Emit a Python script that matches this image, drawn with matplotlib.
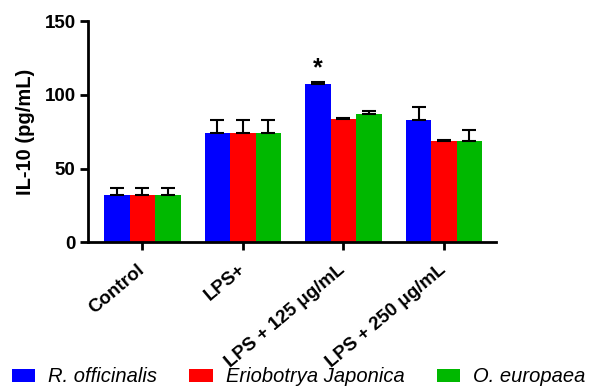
import numpy as np
import matplotlib.pyplot as plt
from matplotlib.patches import Patch

plt.rcParams['font.family'] = ['Liberation Sans', 'DejaVu Sans']

########## data ##########
groups = ['Control', 'LPS+', 'LPS + 125 \u03bcg/mL', 'LPS + 250 \u03bcg/mL']
series_names = ['R. officinalis', 'Eriobotrya Japonica', 'O. europaea']
rosmarinus = [32, 74, 107, 83]
rosmarinus_err = [5, 9, 2, 9]
eriobotrya = [32, 74, 83.5, 68.5]
eriobotrya_err = [5, 9, 0.5, 1]
olea = [32, 74, 87, 69]
olea_err = [5, 9, 2, 7]
star_group = 2
colors = ['#0000ff', '#ff0000', '#00b800']
##########################

fig = plt.figure(figsize=(5.95, 3.89), dpi=100)
ax = fig.add_axes([0.148, 0.377, 0.686, 0.569])

x = np.arange(len(groups))
w = 0.253
values = [rosmarinus, eriobotrya, olea]
errors = [rosmarinus_err, eriobotrya_err, olea_err]
for i in range(3):
    pos = x + (i - 1) * w
    err = [np.zeros(len(groups)), errors[i]]
    ax.bar(pos, values[i], w, color=colors[i], edgecolor='none', zorder=2)
    ax.errorbar(pos, values[i], yerr=err, fmt='none', ecolor='black',
                elinewidth=1.5, capsize=5, capthick=1.5, zorder=3)

ax.text(x[star_group] - w, rosmarinus[star_group] + rosmarinus_err[star_group] + 1, '*',
        ha='center', va='bottom', fontsize=18, fontweight='bold')

ax.set_xlim(-0.54, 3.52)
ax.set_ylim(0, 150)
ax.set_yticks([0, 50, 100, 150])
ax.set_xticks(x)
ax.set_xticklabels(groups, rotation=40, ha='right', va='center', rotation_mode='anchor',
                   fontsize=13.5, fontweight='bold')
for lab in ax.get_yticklabels():
    lab.set_fontsize(13.5)
    lab.set_fontweight('bold')
ax.set_ylabel('IL-10 (pg/mL)', fontsize=14.5, fontweight='bold', labelpad=7)

for s in ['top', 'right']:
    ax.spines[s].set_visible(False)
for s in ['left', 'bottom']:
    ax.spines[s].set_linewidth(2)
ax.tick_params(axis='both', width=2, length=6, pad=3)
ax.tick_params(axis='x', pad=12)

handles = [Patch(facecolor=c, edgecolor='none') for c in colors]
leg = fig.legend(handles, series_names, loc='center left', bbox_to_anchor=(0.020, 0.031),
                 ncol=3, frameon=False, handlelength=1.15, handleheight=0.6,
                 handletextpad=0.65, columnspacing=1.6, borderaxespad=0, borderpad=0,
                 prop={'size': 14.5, 'style': 'italic'})

fig.savefig('out.png', dpi=100)
